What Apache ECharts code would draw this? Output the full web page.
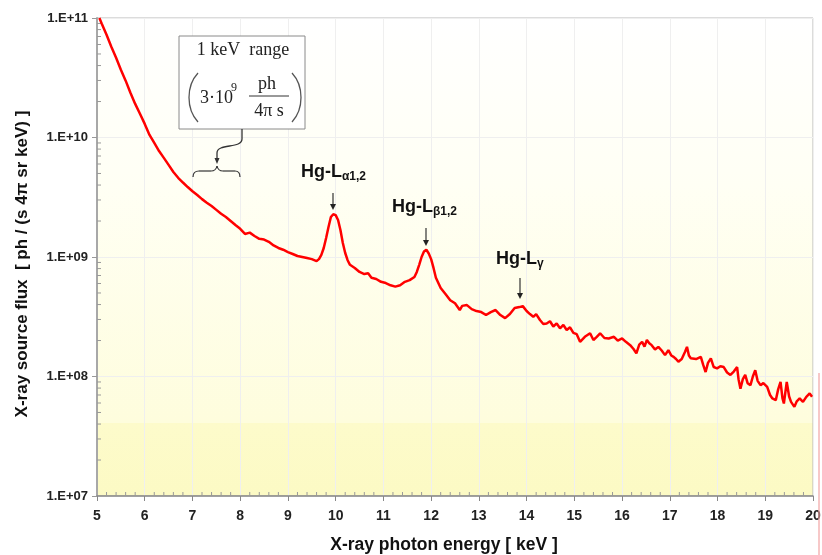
<!DOCTYPE html>
<html>
<head>
<meta charset="utf-8">
<title>X-ray source flux</title>
<script src="https://cdn.jsdelivr.net/npm/echarts@6/dist/echarts.min.js"></script>
<style>
  html, body { margin: 0; padding: 0; background: #fff; }
  #main { width: 822px; height: 555px; }
</style>
</head>
<body>
<div id="main"></div>
<script type="text/javascript">
// spectrum: photon energy [keV] and flux [ph/(s 4pi sr keV)]
var energy = [
  5.05, 5.10, 5.20, 5.30, 5.40, 5.50, 5.60, 5.70, 5.80, 5.90,
  6.00, 6.10, 6.20, 6.30, 6.40, 6.50, 6.60, 6.70, 6.80, 6.90,
  7.00, 7.10, 7.20, 7.30, 7.40, 7.50, 7.60, 7.70, 7.80, 7.90,
  8.00, 8.10, 8.20, 8.30, 8.40, 8.50, 8.60, 8.70, 8.80, 8.90,
  9.00, 9.10, 9.20, 9.30, 9.40, 9.50, 9.60, 9.65, 9.70, 9.75,
  9.80, 9.85, 9.90, 9.95, 10.00, 10.05, 10.10, 10.15, 10.20, 10.25,
  10.30, 10.40, 10.50, 10.60, 10.68, 10.75, 10.85, 10.95, 11.05, 11.15,
  11.25, 11.35, 11.45, 11.55, 11.65, 11.70, 11.75, 11.80, 11.85, 11.90,
  11.95, 12.00, 12.05, 12.10, 12.20, 12.30, 12.40, 12.50, 12.60, 12.65,
  12.75, 12.85, 12.95, 13.05, 13.15, 13.25, 13.35, 13.45, 13.55, 13.65,
  13.75, 13.85, 13.92, 14.00, 14.07, 14.14, 14.20, 14.28, 14.35, 14.42,
  14.49, 14.56, 14.63, 14.70, 14.77, 14.84, 14.91, 14.98, 15.05, 15.12,
  15.22, 15.33, 15.40, 15.47, 15.54, 15.63, 15.72, 15.83, 15.91, 16.00,
  16.08, 16.17, 16.24, 16.30, 16.36, 16.42, 16.47, 16.52, 16.57, 16.62,
  16.69, 16.76, 16.83, 16.90, 16.97, 17.03, 17.08, 17.13, 17.18, 17.25,
  17.32, 17.36, 17.40, 17.44, 17.55, 17.65, 17.70, 17.75, 17.80, 17.86,
  17.92, 17.99, 18.06, 18.13, 18.20, 18.27, 18.34, 18.41, 18.44, 18.48,
  18.53, 18.58, 18.63, 18.69, 18.74, 18.79, 18.84, 18.90, 18.96, 19.04,
  19.10, 19.15, 19.22, 19.27, 19.32, 19.36, 19.39, 19.45, 19.50, 19.54,
  19.61, 19.66, 19.72, 19.79, 19.86, 19.93, 19.98
];
var flux = [
  1.0e11, 8.96e10, 7.24e10, 5.75e10, 4.65e10, 3.69e10, 2.99e10, 2.37e10, 1.91e10, 1.58e10,
  1.30e10, 1.05e10, 9.0e9, 7.7e9, 6.75e9, 5.9e9, 5.15e9, 4.6e9, 4.2e9, 3.85e9,
  3.55e9, 3.3e9, 3.05e9, 2.85e9, 2.67e9, 2.48e9, 2.3e9, 2.16e9, 2.0e9, 1.85e9,
  1.72e9, 1.56e9, 1.60e9, 1.50e9, 1.42e9, 1.40e9, 1.34e9, 1.25e9, 1.19e9, 1.15e9,
  1.10e9, 1.06e9, 1.02e9, 1.00e9, 9.8e8, 9.6e8, 9.25e8, 9.6e8, 1.04e9, 1.19e9,
  1.44e9, 1.78e9, 2.16e9, 2.28e9, 2.24e9, 2.04e9, 1.68e9, 1.31e9, 1.08e9, 9.4e8,
  8.6e8, 8.1e8, 7.5e8, 7.2e8, 7.3e8, 6.7e8, 6.55e8, 6.2e8, 6.05e8, 5.8e8,
  5.65e8, 5.8e8, 6.2e8, 6.4e8, 6.8e8, 7.5e8, 8.6e8, 1.0e9, 1.11e9, 1.15e9,
  1.07e9, 9.6e8, 8.1e8, 6.7e8, 5.5e8, 4.9e8, 4.35e8, 4.1e8, 3.6e8, 3.9e8,
  3.96e8, 3.66e8, 3.53e8, 3.46e8, 3.27e8, 3.46e8, 3.6e8, 3.27e8, 3.08e8, 3.33e8,
  3.74e8, 3.81e8, 3.88e8, 3.53e8, 3.33e8, 3.16e8, 3.33e8, 2.97e8, 2.75e8, 2.78e8,
  2.9e8, 2.62e8, 2.78e8, 2.53e8, 2.7e8, 2.45e8, 2.58e8, 2.32e8, 2.26e8, 1.95e8,
  2.15e8, 2.3e8, 2.02e8, 2.15e8, 2.3e8, 2.1e8, 2.08e8, 2.15e8, 2.0e8, 2.08e8,
  1.95e8, 1.83e8, 1.7e8, 1.56e8, 1.85e8, 1.95e8, 1.78e8, 2.02e8, 1.9e8, 1.83e8,
  1.68e8, 1.77e8, 1.65e8, 1.51e8, 1.66e8, 1.5e8, 1.46e8, 1.4e8, 1.33e8, 1.4e8,
  1.61e8, 1.77e8, 1.5e8, 1.42e8, 1.4e8, 1.46e8, 1.25e8, 1.09e8, 1.3e8, 1.42e8,
  1.2e8, 1.17e8, 1.22e8, 1.2e8, 1.08e8, 1.03e8, 1.1e8, 1.2e8, 9.5e7, 7.9e7,
  9.5e7, 1.03e8, 8.8e7, 8.46e7, 1.0e8, 1.13e8, 9.2e7, 8.46e7, 8.8e7, 8.2e7,
  7.0e7, 6.55e7, 6.34e7, 7.8e7, 9.02e7, 6.6e7, 5.94e7, 9.02e7, 6.8e7, 6.13e7,
  5.57e7, 6.2e7, 6.55e7, 6.13e7, 6.76e7, 7.21e7, 6.76e7
];

// axis ticks
var xTicks = [5, 6, 7, 8, 9, 10, 11, 12, 13, 14, 15, 16, 17, 18, 19, 20];
var yTickValues = [1e7, 1e8, 1e9, 1e10, 1e11];
var yTickLabels = ['1.E+07', '1.E+08', '1.E+09', '1.E+10', '1.E+11'];
var yMinorFactors = [2, 3, 4, 5, 6, 7, 8, 9];
var xMinorSteps = [0.2, 0.4, 0.6, 0.8];

var spectrum = [];
for (var i = 0; i < energy.length; i++) {
    spectrum.push([energy[i], flux[i]]);
}

// minor ticks: [x, y, direction] 0 = on y axis, 1 = on x axis
var minorTicks = [];
for (var d = 0; d < yTickValues.length - 1; d++) {
    for (var k = 0; k < yMinorFactors.length; k++) {
        minorTicks.push([xTicks[0], yTickValues[d] * yMinorFactors[k], 0]);
    }
}
for (var t = 0; t < xTicks.length - 1; t++) {
    for (var m = 0; m < xMinorSteps.length; m++) {
        minorTicks.push([xTicks[t] + xMinorSteps[m], yTickValues[0], 1]);
    }
}

var myChart = echarts.init(document.getElementById('main'));

var sans = '"Liberation Sans", Arial, sans-serif';
var serif = '"Liberation Serif", "Times New Roman", serif';

function hgLabel(x, y, sub) {
    return {
        type: 'text', x: x, y: y, z: 20,
        style: {
            text: '{m|Hg-L}{s|' + sub + '}',
            align: 'left', verticalAlign: 'middle',
            rich: {
                m: { fontSize: 18, fontWeight: 'bold', fontFamily: sans, fill: '#111', lineHeight: 20 },
                s: { fontSize: 12, fontWeight: 'bold', fontFamily: sans, fill: '#111', padding: [10, 0, 0, 0] }
            }
        }
    };
}
function seg(x1, y1, x2, y2, w) {
    return { type: 'line', z: 20, shape: { x1: x1, y1: y1, x2: x2, y2: y2 }, style: { stroke: '#333', lineWidth: w || 1.2 } };
}
function curve(x1, y1, cx, cy, x2, y2) {
    return { type: 'bezierCurve', z: 20, shape: { x1: x1, y1: y1, cpx1: cx, cpy1: cy, x2: x2, y2: y2 }, style: { stroke: '#333', lineWidth: 1.2, fill: null } };
}
function downArrow(x, y1, y2) {
    return [
        seg(x, y1, x, y2 - 4, 1.2),
        { type: 'polygon', z: 20, shape: { points: [[x - 3, y2 - 6], [x + 3, y2 - 6], [x, y2]] }, style: { fill: '#222' } }
    ];
}

var graphics = [
    // 1 keV range box
    { type: 'rect', z: 20, shape: { x: 179, y: 36, width: 126, height: 93 }, style: { fill: '#fff', stroke: '#8a8a8a', lineWidth: 1 } },
    { type: 'text', z: 21, x: 243, y: 50, style: { text: '1 keV  range', font: '18px ' + serif, fill: '#222', align: 'center', verticalAlign: 'middle' } },
    { type: 'bezierCurve', z: 21, shape: { x1: 198, y1: 73, cpx1: 186, cpy1: 86, cpx2: 186, cpy2: 109, x2: 198, y2: 122 }, style: { stroke: '#555', lineWidth: 1.3, fill: null } },
    { type: 'bezierCurve', z: 21, shape: { x1: 292, y1: 73, cpx1: 304, cpy1: 86, cpx2: 304, cpy2: 109, x2: 292, y2: 122 }, style: { stroke: '#555', lineWidth: 1.3, fill: null } },
    { type: 'text', z: 21, x: 200, y: 98, style: { text: '3·10', font: '18px ' + serif, fill: '#222', align: 'left', verticalAlign: 'middle' } },
    { type: 'text', z: 21, x: 231, y: 88, style: { text: '9', font: '12px ' + serif, fill: '#222', align: 'left', verticalAlign: 'middle' } },
    { type: 'text', z: 21, x: 267, y: 84, style: { text: 'ph', font: '18px ' + serif, fill: '#222', align: 'center', verticalAlign: 'middle' } },
    { type: 'line', z: 21, shape: { x1: 249, y1: 96, x2: 289, y2: 96 }, style: { stroke: '#333', lineWidth: 1 } },
    { type: 'text', z: 21, x: 269, y: 111, style: { text: '4π s', font: '18px ' + serif, fill: '#222', align: 'center', verticalAlign: 'middle' } },
    // connector from box to brace
    seg(242, 129, 242, 139, 1.3),
    { type: 'bezierCurve', z: 20, shape: { x1: 242, y1: 139, cpx1: 242, cpy1: 149, cpx2: 217, cpy2: 143, x2: 217, y2: 153 }, style: { stroke: '#333', lineWidth: 1.3, fill: null } },
    seg(217, 153, 217, 159, 1.3),
    { type: 'polygon', z: 20, shape: { points: [[214.5, 158], [219.5, 158], [217, 164]] }, style: { fill: '#333' } },
    // brace over 7..8 keV
    curve(193, 177, 193, 171, 199, 171),
    seg(199, 171, 211, 171),
    curve(211, 171, 216, 171, 217, 166),
    curve(217, 166, 218, 171, 223, 171),
    seg(223, 171, 235, 171),
    curve(235, 171, 240, 171, 240, 177),
    // line labels
    hgLabel(301, 172, 'α1,2'),
    hgLabel(392, 207, 'β1,2'),
    hgLabel(496, 259, 'γ'),
    // stray mark at the right edge
    { type: 'line', z: 5, shape: { x1: 819, y1: 373, x2: 819, y2: 555 }, style: { stroke: '#f2a3a3', lineWidth: 1.2 } }
];
graphics = graphics.concat(downArrow(333, 193, 210), downArrow(426, 228, 246), downArrow(520, 278, 299));

option = {
    animation: false,
    backgroundColor: '#ffffff',
    grid: {
        left: 97, right: 9, top: 18, bottom: 59,
        containLabel: false,
        outerBoundsMode: 'none',
        show: true,
        borderColor: '#b8b8b8',
        borderWidth: 1,
        backgroundColor: new echarts.graphic.LinearGradient(0, 0, 0, 1, [
            { offset: 0, color: '#ffffff' },
            { offset: 0.35, color: '#fffff4' },
            { offset: 0.846, color: '#fefddd' },
            { offset: 0.847, color: '#fdfbcb' },
            { offset: 1, color: '#fcfac4' }
        ])
    },
    xAxis: {
        type: 'value',
        min: 5, max: 20, interval: 1,
        name: 'X-ray photon energy [ keV ]',
        nameLocation: 'middle',
        nameGap: 40,
        nameTextStyle: { fontFamily: sans, fontWeight: 'bold', fontSize: 17.5, color: '#111', padding: [0, 22, 0, 0] },
        axisLine: { lineStyle: { color: '#888', width: 1.5 } },
        axisTick: { length: 5, lineStyle: { color: '#888' } },
        axisLabel: { fontFamily: sans, fontWeight: 'bold', fontSize: 14, color: '#222', margin: 13 },
        splitLine: { show: true, lineStyle: { color: '#efefef', width: 1 } }
    },
    yAxis: {
        type: 'log',
        logBase: 10,
        min: 1e7, max: 1e11,
        name: 'X-ray source flux  [ ph / (s 4π sr keV) ]',
        nameLocation: 'middle',
        nameGap: 66,
        nameTextStyle: { fontFamily: sans, fontWeight: 'bold', fontSize: 17, color: '#111', padding: [0, 14, 0, 0] },
        axisLine: { lineStyle: { color: '#a8a8a8', width: 2 } },
        axisTick: { length: 5, lineStyle: { color: '#999' } },
        axisLabel: {
            fontFamily: sans, fontWeight: 'bold', fontSize: 13, color: '#222', margin: 9,
            formatter: function (value) {
                var idx = Math.round(Math.log(value) / Math.LN10) - 7;
                return yTickLabels[idx] || '';
            }
        },
        splitLine: { show: true, lineStyle: { color: '#efefef', width: 1 } }
    },
    series: [
        {
            type: 'custom',
            coordinateSystem: 'cartesian2d',
            silent: true,
            z: 3,
            data: minorTicks,
            renderItem: function (params, api) {
                var p = api.coord([api.value(0), api.value(1)]);
                var horiz = api.value(2) === 0;
                return {
                    type: 'line',
                    shape: horiz
                        ? { x1: p[0], y1: p[1], x2: p[0] + 4, y2: p[1] }
                        : { x1: p[0], y1: p[1], x2: p[0], y2: p[1] - 4 },
                    style: { stroke: '#999', lineWidth: 1 }
                };
            }
        },
        {
            type: 'line',
            data: spectrum,
            showSymbol: false,
            smooth: false,
            z: 4,
            lineStyle: { color: '#ff0000', width: 2.5 }
        }
    ],
    graphic: graphics
};

myChart.setOption(option);
</script>
</body>
</html>
